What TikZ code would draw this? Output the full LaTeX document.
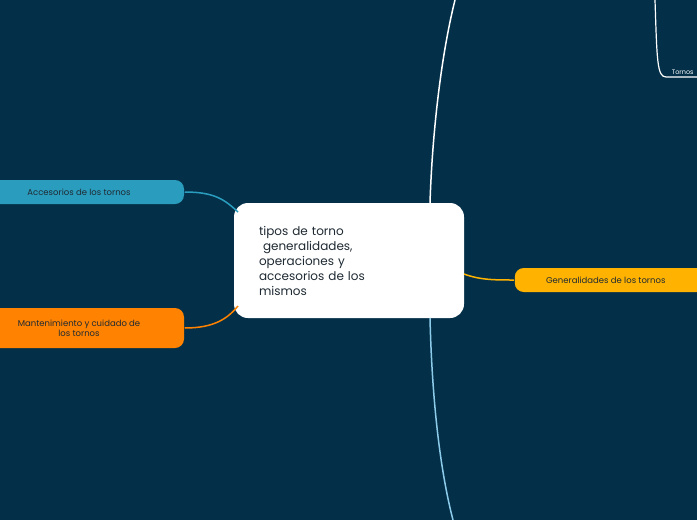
\documentclass[tikz,border=0pt]{standalone}
\usepackage{fontspec}
\setmainfont{Poppins}
\usetikzlibrary{positioning}
\definecolor{bgnavy}{HTML}{033048}
\definecolor{accblue}{HTML}{2A9DBF}
\definecolor{mantorange}{HTML}{FF8200}
\definecolor{genyellow}{HTML}{FFB300}
\definecolor{linkblue}{HTML}{8CCBEA}
\definecolor{txtdark}{HTML}{1F2A33}
\begin{document}
\begin{tikzpicture}[x=1pt,y=-1pt,line width=1.5pt]
	\tikzset{branch/.style={rounded corners=9pt, font=\fontsize{8.5}{10}\selectfont,
			text=txtdark, align=center, inner sep=0pt}}
	\tikzset{root/.style={fill=white, rounded corners=14pt, text=txtdark,
			font=\fontsize{12}{15}\selectfont, align=left, inner sep=0pt}}
	
	\useasboundingbox (0,0) rectangle (697,520);
	\clip (0,0) rectangle (697,520);
	\fill[bgnavy] (0,0) rectangle (697,520);
	
	\node[root, minimum width=230pt, minimum height=115pt, text width=180pt] (R) at (349,260.5)
	{tipos de torno\\ \ generalidades,\\operaciones y\\accesorios de los\\mismos};
	\node[branch, fill=accblue, minimum width=210pt, minimum height=24pt] (A) at (79,192) {Accesorios de los tornos};
	\node[branch, fill=mantorange, minimum width=210pt, minimum height=40pt] (M) at (79,328) {Mantenimiento y cuidado de\\los tornos};
	\node[branch, fill=genyellow, minimum width=200pt, minimum height=24pt, anchor=west] (G) at (514,280) {\hspace*{-18pt}Generalidades de los tornos};
	\coordinate (top) at (455,0);
	\coordinate (bot) at (453,520);
	\coordinate (T1) at (655,0);
	\coordinate (T2) at (666,77);
	\coordinate (T3) at (697,77);
	\node[font=\fontsize{6.5}{8}\selectfont, text=white, anchor=south west, inner sep=1pt] (T) at (670,76) {Tornos};
	
	\draw[accblue] (A.east) .. controls (215,192) and (225,200) .. (238,212);
	\draw[mantorange] (M.east) .. controls (215,328) and (228,318) .. (238,306);
	\draw[genyellow] (464,274) .. controls (480,280) and (495,280) .. (G.west);
	\draw[white] (top) .. controls (440,60) and (432,140) .. (430,203);
	\draw[linkblue] (430,318) .. controls (432,400) and (440,470) .. (bot);
	\draw[white, line width=1.2pt] (T1) .. controls (657,60) and (657,77) .. (T2) -- (T3);
\end{tikzpicture}
\end{document}
